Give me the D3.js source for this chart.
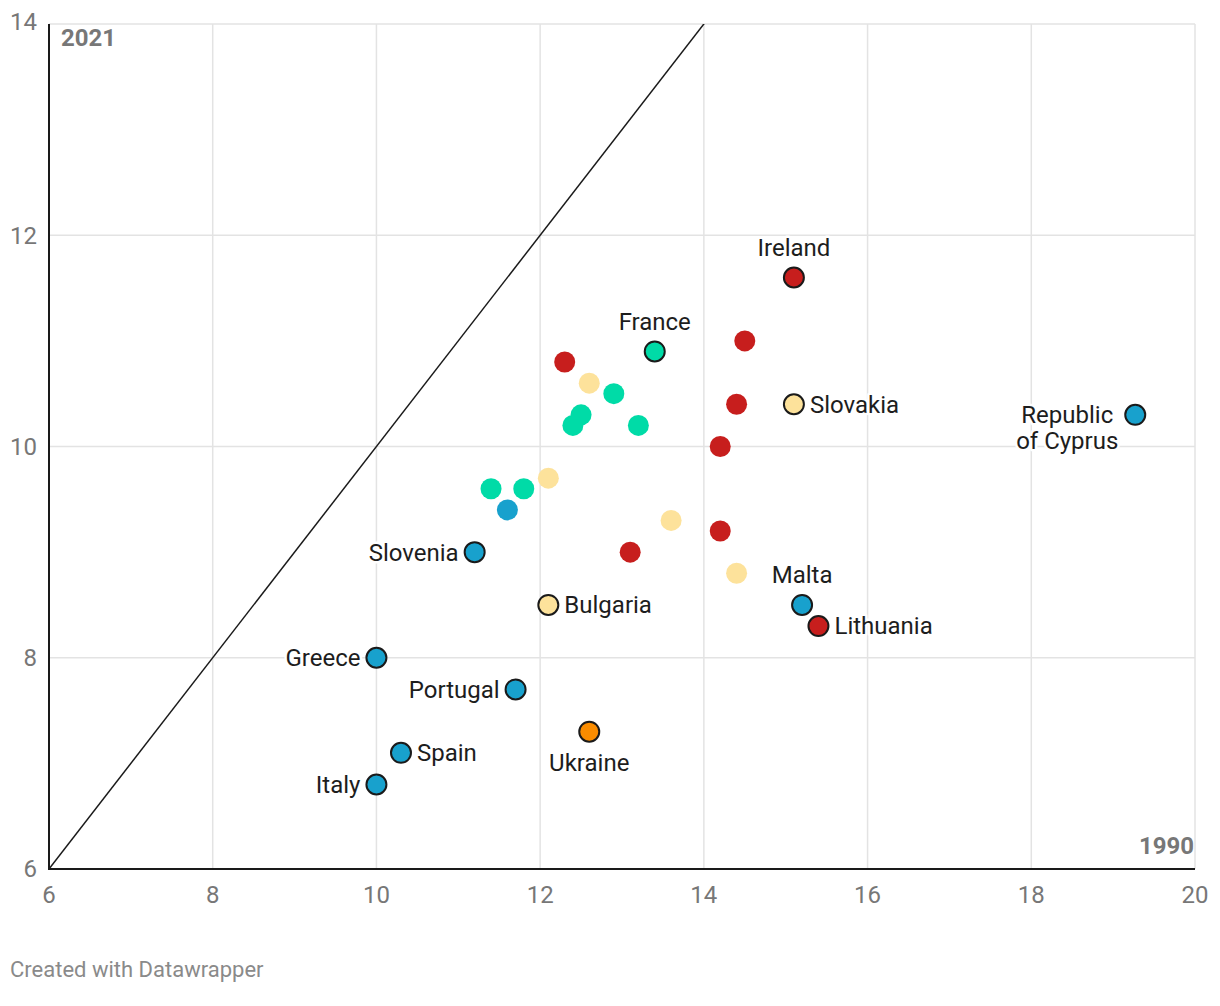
<!DOCTYPE html>
<html><head><meta charset="utf-8">
<script src="https://cdn.jsdelivr.net/npm/d3@7"></script>
<style>
body{margin:0;background:#fff;}
svg{display:block;font-family:Roboto,"Noto Sans",sans-serif;}
</style></head>
<body><svg id="c" width="1220" height="1006"></svg>
<script>
// Data: labelled countries
const names  = ["Ireland","France","Slovakia","Republic\nof Cyprus","Slovenia","Bulgaria","Malta","Lithuania","Greece","Portugal","Ukraine","Spain","Italy"];
const v1990  = [15.1,13.4,15.1,19.27,11.2,12.1,15.2,15.4,10.0,11.7,12.6,10.3,10.0];
const v2021  = [11.6,10.9,10.4,10.3,9.0,8.5,8.5,8.3,8.0,7.7,7.3,7.1,6.8];
const groups = ["red","green","yellow","blue","blue","yellow","blue","red","blue","blue","orange","blue","blue"];
const labelPos = ["top","top","right","left","left","right","top","right","left","left","bottom","right","left"];
// Data: unlabelled countries
const other1990  = [12.3,14.5,14.4,14.2,14.2,13.1,12.6,12.1,13.6,14.4,12.9,12.5,12.4,13.2,11.4,11.8,11.6];
const other2021  = [10.8,11.0,10.4,10.0,9.2,9.0,10.6,9.7,9.3,8.8,10.5,10.3,10.2,10.2,9.6,9.6,9.4];
const otherGroups = ["red","red","red","red","red","red","yellow","yellow","yellow","yellow","green","green","green","green","green","green","blue"];
const xTicks = [6,8,10,12,14,16,18,20];
const yTicks = [6,8,10,12,14];
const xTitle = "1990", yTitle = "2021";
const footer = "Created with Datawrapper";

const palette = {red:"#c71e1d",yellow:"#fde29b",green:"#00dba7",blue:"#18a1cd",orange:"#fa8c00"};

const svg = d3.select("#c");
const x = d3.scaleLinear().domain([6,20]).range([49,1195]);
const y = d3.scaleLinear().domain([6,14]).range([869,24]);

// grid
svg.append("g").selectAll("line").data(xTicks).join("line")
  .attr("x1",d=>x(d)).attr("x2",d=>x(d)).attr("y1",y(14)).attr("y2",y(6))
  .attr("stroke","#e3e3e3").attr("stroke-width",1.5);
svg.append("g").selectAll("line").data(yTicks).join("line")
  .attr("x1",x(6)).attr("x2",x(20)).attr("y1",d=>y(d)).attr("y2",d=>y(d))
  .attr("stroke","#e3e3e3").attr("stroke-width",1.5);

// tick labels
svg.append("g").selectAll("text").data(yTicks).join("text")
  .attr("x",37).attr("y",d=>y(d)-(d===14?2:0)).attr("dy","0.35em").attr("text-anchor","end")
  .attr("font-size",24).attr("fill","#777").text(d=>d);
svg.append("g").selectAll("text").data(xTicks).join("text")
  .attr("x",d=>x(d)).attr("y",895).attr("dy","0.35em").attr("text-anchor","middle")
  .attr("font-size",24).attr("fill","#777").text(d=>d);

// clip for diagonal
svg.append("clipPath").attr("id","pc").append("rect")
  .attr("x",x(6)).attr("y",y(14)).attr("width",x(20)-x(6)).attr("height",y(6)-y(14));
svg.append("line").attr("clip-path","url(#pc)")
  .attr("x1",x(6)).attr("y1",y(6)).attr("x2",x(14.2)).attr("y2",y(14.2))
  .attr("stroke","#1a1a1a").attr("stroke-width",1.5);

// axes lines
svg.append("line").attr("x1",x(6)).attr("x2",x(6)).attr("y1",y(14)).attr("y2",y(6)+1)
  .attr("stroke","#1a1a1a").attr("stroke-width",2);
svg.append("line").attr("x1",x(6)).attr("x2",x(20)).attr("y1",y(6)).attr("y2",y(6))
  .attr("stroke","#1a1a1a").attr("stroke-width",2);

// axis titles
svg.append("text").attr("x",61).attr("y",38).attr("dy","0.35em").attr("font-size",24)
  .attr("font-weight","bold").attr("fill","#777").text(yTitle);
svg.append("text").attr("x",1194).attr("y",846).attr("dy","0.35em").attr("text-anchor","end").attr("font-size",24)
  .attr("font-weight","bold").attr("fill","#777").text(xTitle);

const lab = names.map((n,i)=>({name:n,x:v1990[i],y:v2021[i],g:groups[i],pos:labelPos[i]}));
const unl = other1990.map((v,i)=>({x:v,y:other2021[i],g:otherGroups[i]}));

svg.append("g").selectAll("circle").data(unl).join("circle")
  .attr("cx",d=>x(d.x)).attr("cy",d=>y(d.y)).attr("r",10.5).attr("fill",d=>palette[d.g]);
svg.append("g").selectAll("circle").data(lab).join("circle")
  .attr("cx",d=>x(d.x)).attr("cy",d=>y(d.y)).attr("r",10).attr("fill",d=>palette[d.g])
  .attr("stroke","#1a1a1a").attr("stroke-width",2);

// labels
const lg = svg.append("g");
lab.forEach(d=>{
  const cx=x(d.x), cy=y(d.y);
  const lines=d.name.split("\n");
  let tx=cx, ty=cy, anchor="middle";
  if(d.pos==="top"){ty=cy-30;}
  else if(d.pos==="bottom"){ty=cy+31;}
  else if(d.pos==="right"){tx=cx+16;anchor="start";}
  else if(d.pos==="left"){tx=cx-16;anchor="end";}
  const lh=26;
  if(lines.length>1){ anchor="middle"; tx=cx-68; }
  lines.forEach((l,k)=>{
    const yy = ty + (k-(lines.length-1)/2)*lh + (lines.length>1?13:0);
    lg.append("text").attr("x",tx).attr("y",yy).attr("dy","0.35em").attr("text-anchor",anchor)
      .attr("font-size",24).attr("fill","#fff").attr("stroke","#fff").attr("stroke-width",5)
      .attr("stroke-linejoin","round").text(l);
    lg.append("text").attr("x",tx).attr("y",yy).attr("dy","0.35em").attr("text-anchor",anchor)
      .attr("font-size",24).attr("fill","#1d1d1d").text(l);
  });
});

svg.append("text").attr("x",10).attr("y",969).attr("dy","0.35em").attr("font-size",22)
  .attr("fill","#8a8a8a").text(footer);
</script></body></html>
